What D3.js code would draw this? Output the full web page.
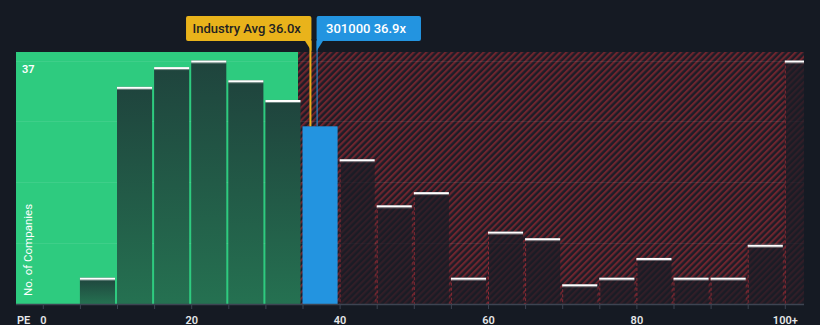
<!DOCTYPE html>
<html>
<head>
<meta charset="utf-8">
<script src="https://cdn.jsdelivr.net/npm/d3@7"></script>
<style>
html,body{margin:0;padding:0;background:#151a23;}
svg{display:block;font-family:Roboto,"Noto Sans",sans-serif;}
</style>
</head>
<body>
<svg id="chart" width="820" height="325"></svg>
<script>
// ---- data ----
const binStarts = [5,10,15,20,25,30,35,40,45,50,55,60,65,70,75,80,85,90,95,100];
const binWidth = 5;
const companyCounts = [4,33,36,37,34,31,27,22,15,17,4,11,10,3,4,7,4,4,9,37];
const highlightBin = 35;           // bin holding 301000
const industryAvg = 36.0;
const companyPE = 36.9;
const companyName = "301000";
const fairZoneEnd = 34.4;          // end of green zone (PE)
const xTickValues = [0,5,10,15,20,25,30,35,40,45,50,55,60,65,70,75,80,85,90,95,100];
const xTickLabels = {0:"0",20:"20",40:"40",60:"60",80:"80",100:"100+"};
const yMax = 37;

// ---- layout ----
const svg = d3.select("#chart");
const plotL = 16, plotR = 804, plotT = 52, plotB = 304;
const x = d3.scaleLinear().domain([0,100]).range([42.8,784.8]);
const y = d3.scaleLinear().domain([0,yMax]).range([plotB,60.5]);

const defs = svg.append("defs");
const pat = defs.append("pattern").attr("id","hatch").attr("patternUnits","userSpaceOnUse")
  .attr("width",4.5).attr("height",4.5).attr("patternTransform","rotate(45)");
pat.append("rect").attr("width",4.5).attr("height",4.5).attr("fill","#1c1d27");
pat.append("rect").attr("width",2.1).attr("height",4.5).attr("fill","#6e252e");

const grad = defs.append("linearGradient").attr("id","gbar").attr("x1",0).attr("y1",0).attr("x2",0).attr("y2",1);
grad.append("stop").attr("offset","0%").attr("stop-color","#1f443d");
grad.append("stop").attr("offset","100%").attr("stop-color","#257151");

defs.append("clipPath").attr("id","plotclip").append("rect")
  .attr("x",plotL).attr("y",plotT-20).attr("width",plotR-plotL).attr("height",plotB-plotT+20);

// background zones
const zoneX = x(fairZoneEnd);
svg.append("rect").attr("x",plotL).attr("y",plotT).attr("width",zoneX-plotL).attr("height",plotB-plotT).attr("fill","#2ecb7f");
svg.append("rect").attr("x",zoneX).attr("y",plotT).attr("width",plotR-zoneX).attr("height",plotB-plotT).attr("fill","url(#hatch)");

// gridlines
svg.append("g").selectAll("line").data([0.25,0.5,0.75,1].map(f=>f*yMax)).join("line")
  .attr("x1",plotL).attr("x2",plotR).attr("y1",d=>Math.round(y(d))+0.5).attr("y2",d=>Math.round(y(d))+0.5)
  .attr("stroke","rgba(255,255,255,0.08)").attr("stroke-width",1);

// bars
const bars = binStarts.map((s,i)=>({lo:s,hi:s+binWidth,v:companyCounts[i]}));
const g = svg.append("g").attr("clip-path","url(#plotclip)");
bars.forEach(b=>{
  const x0 = x(b.lo), x1 = x(b.hi)-2, yt = y(b.v);
  const inGreen = b.lo < fairZoneEnd;
  if (b.lo === highlightBin) {
    g.append("rect").attr("x",x0).attr("y",yt).attr("width",x1-x0).attr("height",plotB-yt).attr("fill","#2394e0");
    return;
  }
  g.append("rect").attr("x",x0).attr("y",yt).attr("width",x1-x0).attr("height",plotB-yt)
    .attr("fill", inGreen ? "url(#gbar)" : "rgba(26,28,38,0.72)");
  if (!inGreen) {
    g.append("line").attr("x1",x0+0.5).attr("x2",x0+0.5).attr("y1",yt).attr("y2",plotB)
      .attr("stroke","#8a2a35").attr("stroke-width",1).attr("stroke-dasharray","3,2");
  }
  g.append("rect").attr("x",x0).attr("y",yt).attr("width",x1-x0).attr("height",2).attr("fill","#ffffff");
  g.append("rect").attr("x",x0).attr("y",yt+2).attr("width",x1-x0).attr("height",1).attr("fill","rgba(255,255,255,0.35)");
});

// axis
const axisG = svg.append("g").attr("transform",`translate(0,${plotB})`);
axisG.append("line").attr("x1",plotL).attr("x2",plotR).attr("y1",0.5).attr("y2",0.5).attr("stroke","#3d4452").attr("stroke-width",1.5);
const xAxis = d3.axisBottom(x).tickValues(xTickValues).tickSize(5).tickFormat(d=>xTickLabels[d]||"");
const ax = axisG.append("g").call(xAxis);
ax.select(".domain").remove();
ax.selectAll(".tick line").attr("stroke","#3d4452");
ax.selectAll(".tick text").attr("fill","#e6e8ea").attr("font-size",11).attr("font-weight",600)
  .attr("y",19.5).attr("dy","0").attr("font-family","Roboto,sans-serif");
svg.append("text").attr("x",17).attr("y",323.5).text("PE").attr("fill","#e6e8ea").attr("font-size",11).attr("font-weight",600);

// y labels
svg.append("text").attr("x",22).attr("y",72.5).text(String(yMax)).attr("fill","#ffffff").attr("font-size",11).attr("font-weight",600);
svg.append("text").attr("transform","translate(31.5,296) rotate(-90)").text("No. of Companies")
  .attr("fill","#ffffff").attr("font-size",11.5);

// annotation lines
const avgX = x(industryAvg), coX = x(companyPE);
const barTop = y(companyCounts[binStarts.indexOf(highlightBin)]);
svg.append("line").attr("x1",avgX+0.5).attr("x2",avgX+0.5).attr("y1",41).attr("y2",barTop).attr("stroke","#e9b31b").attr("stroke-width",2);
svg.append("line").attr("x1",coX+0.5).attr("x2",coX+0.5).attr("y1",41).attr("y2",barTop).attr("stroke","#2394e0").attr("stroke-width",1);

// labels
const avgText = `Industry Avg ${industryAvg.toFixed(1)}x`;
const coText = `${companyName} ${companyPE.toFixed(1)}x`;
const labG = svg.append("g");
const aR = avgX + 1.5;
const aRect = labG.append("rect");
const aTri = labG.append("path");
const aT = labG.append("text").attr("y",33).text(avgText).attr("font-size",13).attr("font-weight",500).attr("fill","#1e1f22");
const aw = aT.node().getComputedTextLength();
const aL = aR - aw - 17;
aRect.attr("x",aL).attr("y",16).attr("width",aR-aL).attr("height",25).attr("rx",2).attr("fill","#e9b31b");
aTri.attr("d",`M${aR-7},40 L${aR},40 L${aR},51 Z`).attr("fill","#e9b31b");
aT.attr("x",aL+6.5);

const cL = coX;
const cRect = labG.append("rect");
const cTri = labG.append("path");
const cT = labG.append("text").attr("y",33).text(coText).attr("font-size",13).attr("font-weight",500).attr("fill","#ffffff");
const cw = cT.node().getComputedTextLength();
cRect.attr("x",cL).attr("y",16).attr("width",cw+24.5).attr("height",25).attr("rx",2).attr("fill","#2394e0");
cTri.attr("d",`M${cL},40 L${cL+7},40 L${cL},51 Z`).attr("fill","#2394e0");
cT.attr("x",cL+9.5);
</script>
</body>
</html>
